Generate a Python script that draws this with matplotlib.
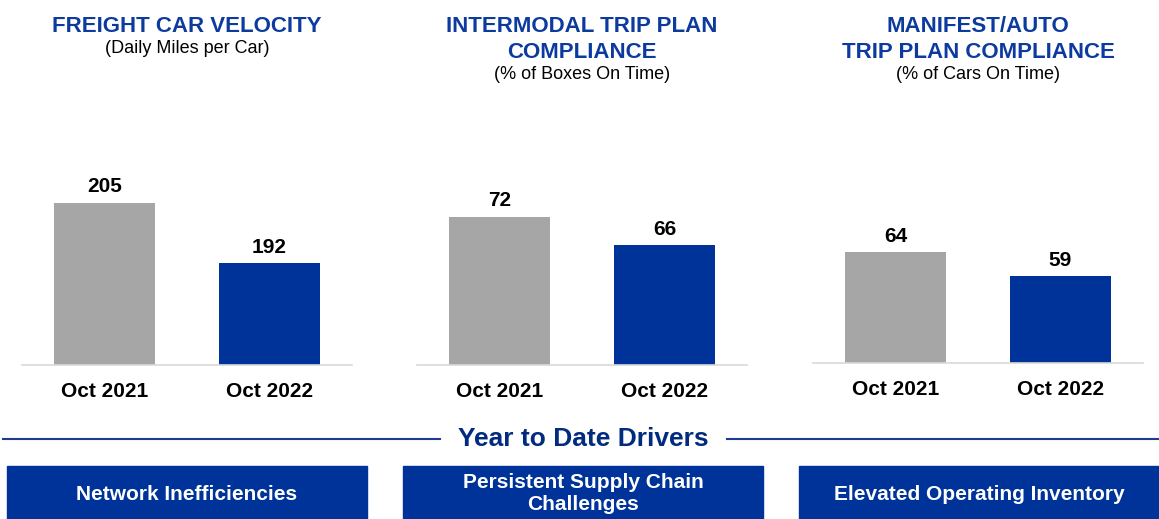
import matplotlib.pyplot as plt
from matplotlib.lines import Line2D
from matplotlib.patches import Rectangle

# chart data
titles = ["FREIGHT CAR VELOCITY",
          "INTERMODAL TRIP PLAN\nCOMPLIANCE",
          "MANIFEST/AUTO\nTRIP PLAN COMPLIANCE"]
subtitles = ["(Daily Miles per Car)",
             "(% of Boxes On Time)",
             "(% of Cars On Time)"]
periods = ["Oct 2021", "Oct 2022"]
velocity = [205, 192]
intermodal = [72, 66]
manifest = [64, 59]
drivers = ["Network Inefficiencies",
           "Persistent Supply Chain\nChallenges",
           "Elevated Operating Inventory"]
section_title = "Year to Date Drivers"

GRAY = "#A6A6A6"
BLUE = "#003399"
TITLE_BLUE = "#0D3A9E"
NAVY = "#002B7F"
SANS = ["Liberation Sans", "DejaVu Sans"]

W, H = 1159, 519


def fx(px):
    return px / W


def fy(py):
    return 1 - py / H


fig = plt.figure(figsize=(W / 100, H / 100), dpi=100)

panels = [velocity, intermodal, manifest]
lefts = [22, 417, 813]
bottoms = [365, 365, 363]
ylims = [(170, 227.1), (40.6, 96.7), (41.2, 95.2)]
top = 100

for i, vals in enumerate(panels):
    left, bot = lefts[i], bottoms[i]
    ax = fig.add_axes([fx(left), fy(bot), fx(330), (bot - top) / H])
    x = range(len(vals))
    ax.bar(x, vals, width=0.61, color=[GRAY, BLUE])
    ax.set_xlim(-0.5, 1.5)
    ax.set_ylim(*ylims[i])
    for xi, v in zip(x, vals):
        ax.annotate(str(v), (xi, v), xytext=(0, 4.5), textcoords="offset points",
                    ha="center", va="bottom", fontsize=15, fontweight="bold",
                    family=SANS)
    ax.set_xticks(list(x))
    ax.set_xticklabels(periods, fontsize=15, fontweight="bold", family=SANS)
    ax.tick_params(axis="x", length=0, pad=12.5)
    ax.set_yticks([])
    for s in ["top", "left", "right"]:
        ax.spines[s].set_visible(False)
    ax.spines["bottom"].set_color("#D9D9D9")
    ax.spines["bottom"].set_linewidth(1.2)

    # titles
    cx = left + 165
    lines = titles[i].split("\n")
    base = 32
    for line in lines:
        fig.text(fx(cx), fy(base), line, ha="center", va="baseline",
                 fontsize=16, fontweight="bold", color=TITLE_BLUE, family=SANS)
        base += 26
    fig.text(fx(cx), fy(base - 5), subtitles[i], ha="center", va="baseline",
             fontsize=13, color="black", family=SANS)

# section header
fig.text(fx(583), fy(439), section_title, ha="center", va="center",
         fontsize=19, fontweight="bold", color=NAVY, family=SANS)
fig.add_artist(Line2D([fx(3), fx(440)], [fy(439), fy(439)], color="#1F3C8F", lw=1.5))
fig.add_artist(Line2D([fx(727), fx(1159)], [fy(439), fy(439)], color="#1F3C8F", lw=1.5))

# driver boxes
box_lefts = [7, 403, 799]
for bl, txt in zip(box_lefts, drivers):
    fig.add_artist(Rectangle((fx(bl), fy(519)), fx(360), 53 / H,
                             transform=fig.transFigure, color=BLUE))
    fig.text(fx(bl + 180), fy(494), txt, ha="center", va="center",
             fontsize=15, fontweight="bold", color="white", family=SANS,
             linespacing=1.2)

fig.savefig("out.png", dpi=100)
